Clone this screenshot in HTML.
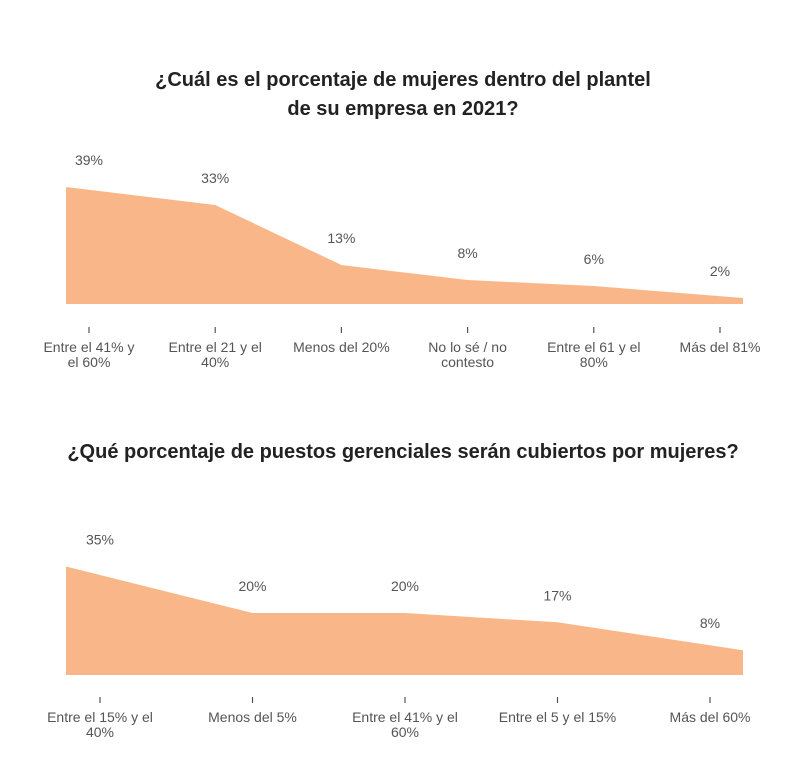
<!DOCTYPE html>
<html><head><meta charset="utf-8"><style>
body{margin:0;background:#fff;width:800px;height:769px;overflow:hidden;font-family:"Liberation Sans",sans-serif}
</style></head><body>
<svg id="svg" width="800" height="769" xmlns="http://www.w3.org/2000/svg">
<text x="403" y="86" text-anchor="middle" font-size="20" font-weight="bold" fill="#222">¿Cuál es el porcentaje de mujeres dentro del plantel</text>
<text x="403" y="115" text-anchor="middle" font-size="20" font-weight="bold" fill="#222">de su empresa en 2021?</text>
<text x="403" y="458" text-anchor="middle" font-size="20" font-weight="bold" fill="#222">¿Qué porcentaje de puestos gerenciales serán cubiertos por mujeres?</text>
</svg>
<script>
const cats1 = [["Entre el 41% y","el 60%"],["Entre el 21 y el","40%"],["Menos del 20%"],["No lo sé / no","contesto"],["Entre el 61 y el","80%"],["Más del 81%"]];
const vals1 = [39,33,13,8,6,2];
const cats2 = [["Entre el 15% y el","40%"],["Menos del 5%"],["Entre el 41% y el","60%"],["Entre el 5 y el 15%"],["Más del 60%"]];
const vals2 = [35,20,20,17,8];
const NS="http://www.w3.org/2000/svg", svg=document.getElementById('svg');
function mk(t,a){const e=document.createElementNS(NS,t);for(const k in a)e.setAttribute(k,a[k]);svg.appendChild(e);return e;}
function draw(cats,vals,o){
  const n=vals.length;
  const tx=i=>o.t0+i*(o.t1-o.t0)/(n-1);
  const px=i=>i===0?o.x0:(i===n-1?o.x1:tx(i));
  const py=v=>o.base-v*o.k;
  let d=`M${px(0)},${o.base}`;
  vals.forEach((v,i)=>d+=` L${px(i)},${py(v)}`);
  d+=` L${px(n-1)},${o.base} Z`;
  const a=mk('path',{d:d,fill:'#f9b789'});
  
  
  vals.forEach((v,i)=>{
    const l=mk('text',{x:tx(i),y:py(v)-22,'text-anchor':'middle','font-size':14,fill:'#555'});
    l.textContent=v+'%';
    
    
    const t=mk('line',{x1:tx(i),x2:tx(i),y1:o.tick,y2:o.tick+6,stroke:'#555','stroke-width':1.2});
    
    
    cats[i].forEach((s,j)=>{
      const c=mk('text',{x:tx(i),y:o.tick+25+j*15,'text-anchor':'middle','font-size':14,fill:'#555'});
      c.textContent=s;
      
      
    });
  });
}
draw(cats1,vals1,{id:'chart1',x0:66,x1:743,t0:89,t1:720,base:304,k:3,tick:327});
draw(cats2,vals2,{id:'chart2',x0:66,x1:743,t0:100,t1:710,base:675,k:3.1,tick:697});
</script>
</body></html>
